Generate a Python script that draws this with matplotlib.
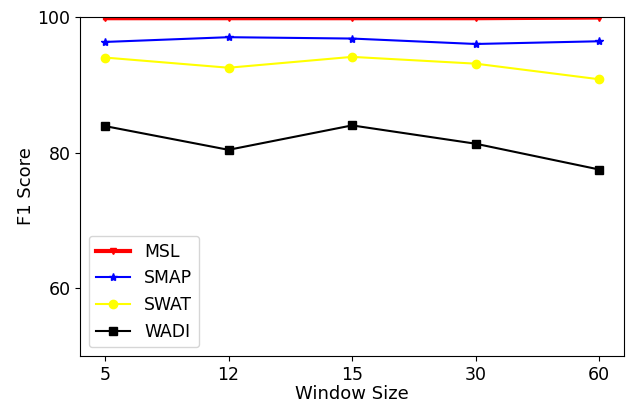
import matplotlib
matplotlib.use("Agg")
import matplotlib.pyplot as plt

window_sizes = ["5", "12", "15", "30", "60"]
msl = [99.8, 99.8, 99.8, 99.8, 99.9]
smap = [96.3, 97.0, 96.8, 96.0, 96.4]
swat = [94.0, 92.5, 94.1, 93.1, 90.8]
wadi = [83.9, 80.4, 84.0, 81.3, 77.5]

fig = plt.figure(figsize=(6.27, 4.01), dpi=100)
ax = fig.add_axes([0.128, 0.112, 0.867, 0.846])
x = list(range(len(window_sizes)))
ax.plot(x, msl, color="red", marker="v", linewidth=3, markersize=5, label="MSL")
ax.plot(x, smap, color="blue", marker="*", linewidth=1.5, markersize=6, label="SMAP")
ax.plot(x, swat, color="yellow", marker="o", linewidth=1.5, markersize=6, label="SWAT")
ax.plot(x, wadi, color="black", marker="s", linewidth=1.5, markersize=6, label="WADI")
ax.set_xticks(x)
ax.set_xticklabels(window_sizes)
ax.set_ylim(50, 100)
ax.set_yticks([60, 80, 100])
ax.tick_params(labelsize=12.5)
ax.set_xlabel("Window Size", fontsize=13, labelpad=0.5)
ax.set_ylabel("F1 Score", fontsize=13, labelpad=2)
ax.legend(loc="lower left", fontsize=12.4)
fig.savefig("out.png", dpi=100)
